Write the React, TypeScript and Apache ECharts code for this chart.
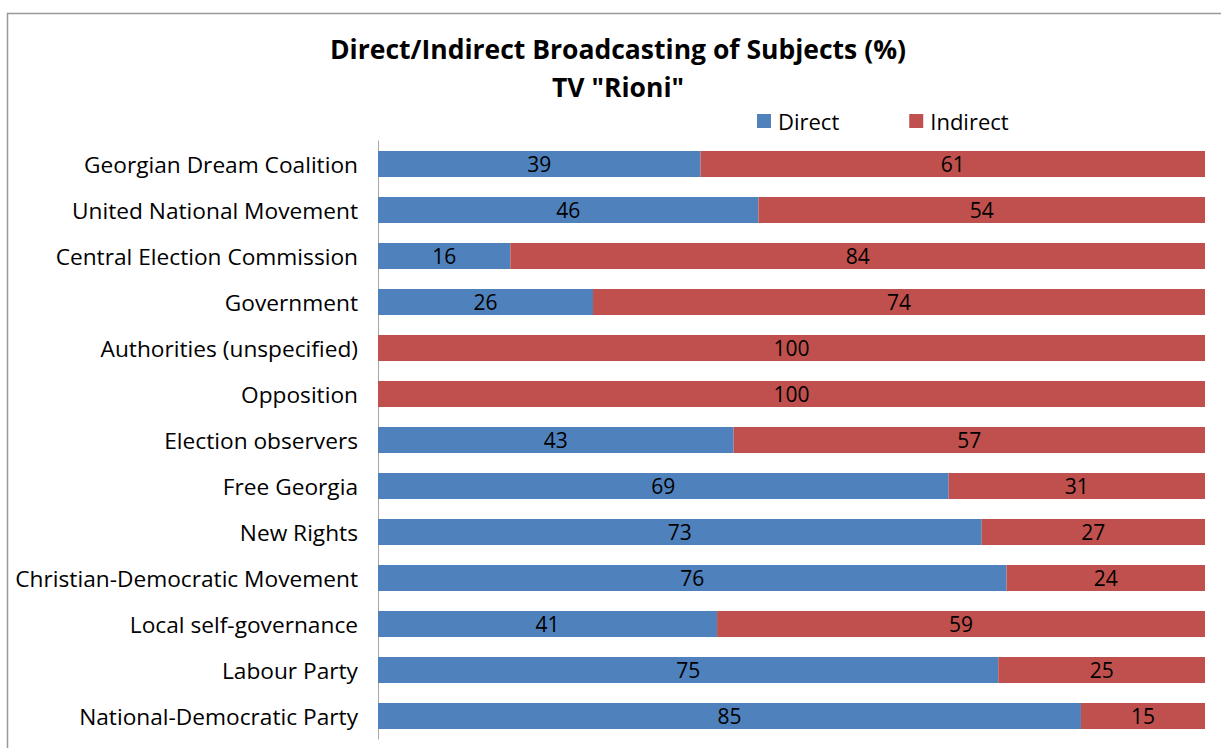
import React, { useEffect, useRef } from "react";
import * as echarts from "echarts";

const categories = [
  "Georgian Dream Coalition",
  "United National Movement",
  "Central Election Commission",
  "Government",
  "Authorities (unspecified)",
  "Opposition",
  "Election observers",
  "Free Georgia",
  "New Rights",
  "Christian-Democratic Movement",
  "Local self-governance",
  "Labour Party",
  "National-Democratic Party",
];
const direct = [39, 46, 16, 26, 0, 0, 43, 69, 73, 76, 41, 75, 85];
const indirect = [61, 54, 84, 74, 100, 100, 57, 31, 27, 24, 59, 25, 15];

const FONT = "'Open Sans', sans-serif";

export default function App() {
  const ref = useRef<HTMLDivElement>(null);
  useEffect(() => {
    const chart = echarts.init(ref.current!, null, { renderer: "svg" });
    const label = {
      show: true,
      position: "inside" as const,
      color: "#000",
      fontFamily: FONT,
      fontSize: 21,
      formatter: (p: any) => (p.value > 0 ? String(p.value) : ""),
    };
    chart.setOption({
      animation: false,
      backgroundColor: "#fff",
      title: {
        text: 'Direct/Indirect Broadcasting of Subjects (%)\nTV "Rioni"',
        left: 613,
        textAlign: "center",
        top: 25,
        textStyle: {
          fontFamily: FONT,
          fontWeight: "bold",
          fontSize: 26.5,
          lineHeight: 38,
          color: "#000",
        },
      },
      legend: {
        data: ["Direct", "Indirect"],
        left: 757,
        top: 110,
        padding: 0,
        itemWidth: 14,
        itemHeight: 14,
        itemGap: 70,
        icon: "rect",
        textStyle: { fontFamily: FONT, fontSize: 22, color: "#000", padding: [0, 0, 0, 2] },
      },
      grid: { left: 378, right: 16, top: 141, height: 598, containLabel: false },
      xAxis: {
        type: "value",
        min: 0,
        max: 100,
        show: false,
      },
      yAxis: {
        type: "category",
        inverse: true,
        data: categories,
        axisLine: { show: true, lineStyle: { color: "#a6a6a6", width: 1 } },
        axisTick: { show: false },
        axisLabel: {
          color: "#000",
          fontFamily: FONT,
          fontSize: 22.7,
          margin: 20,
        },
      },
      graphic: [
        {
          type: "rect",
          shape: { x: 7.5, y: 13.5, width: 1300, height: 800 },
          style: { fill: "none", stroke: "#999", lineWidth: 1.5 },
          silent: true,
          z: -1,
        },
      ],
      series: [
        {
          name: "Direct",
          type: "bar",
          stack: "total",
          data: direct,
          barCategoryGap: "43%",
          itemStyle: { color: "#4F81BD" },
          label,
        },
        {
          name: "Indirect",
          type: "bar",
          stack: "total",
          data: indirect,
          barCategoryGap: "43%",
          itemStyle: { color: "#C0504D" },
          label,
        },
      ],
    });
    return () => chart.dispose();
  }, []);
  return (
    <div
      ref={ref}
      style={{ position: "fixed", left: 0, top: 0, width: 1221, height: 748 }}
    />
  );
}
